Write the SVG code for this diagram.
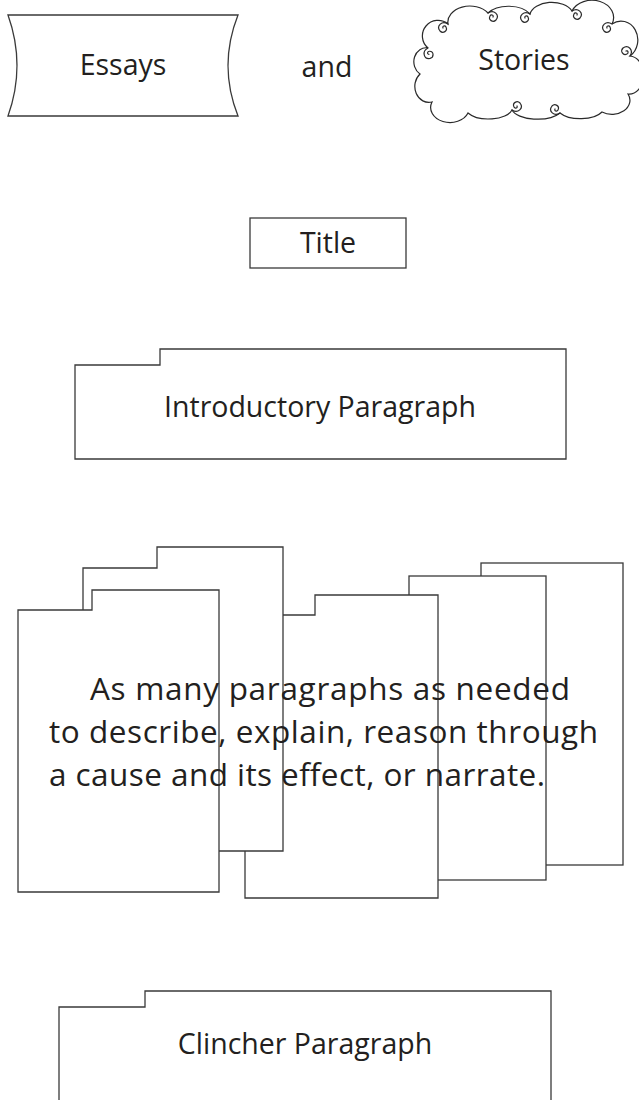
<svg xmlns="http://www.w3.org/2000/svg" width="639" height="1100" viewBox="0 0 639 1100">
<style>
.shape{fill:#fff;stroke:#3a3a3a;stroke-width:1.3;stroke-linejoin:miter}
.curl{fill:none;stroke:#2a2a2a;stroke-width:1.2;stroke-linecap:round}
.lbl{font-family:"Open Sans","Liberation Sans",sans-serif;fill:#231f20;font-size:28.5px}
.big{font-family:"Open Sans","Liberation Sans",sans-serif;fill:#231f20;font-size:31.5px}
</style>
<defs>
<path id="curl" class="curl" d="M0,0 c-6,-4 -12,2 -8,7 c3,3 8,0 6,-4 c-1,-2 -4,-1 -3,1"/>
</defs>
<rect width="639" height="1100" fill="#fff"/>

<g id="node-essays">
<path class="shape" d="M8,15 L238,15 Q218,65.5 238,116 L8,116 Q26,65.5 8,15 Z"/>
<text class="lbl" x="123" y="75" text-anchor="middle">Essays</text>
</g>

<g id="node-and">
<text class="lbl" x="327" y="77" text-anchor="middle">and</text>
</g>

<g id="node-stories">
<path class="shape" style="stroke:#2a2a2a;stroke-width:1.2" d="M428,48 A14,14 0 0 1 448,24 A22,16 0 0 1 488,13 A24,14 0 0 1 530,14 A22,14 0 0 1 572,11 A20,16 0 0 1 612,24 A16,18 0 0 1 630,56 A14,18 0 0 1 628,94 A18,14 0 0 1 602,112 A24,12 0 0 1 560,113 A26,12 0 0 1 512,110 A24,12 0 0 1 468,113 A18,14 0 0 1 432,102 A14,16 0 0 1 420,74 A12,14 0 0 1 428,48 Z"/>
<use href="#curl" transform="translate(448,24)"/>
<use href="#curl" transform="translate(488,13) scale(-1,1)"/>
<use href="#curl" transform="translate(530,14)"/>
<use href="#curl" transform="translate(572,11) scale(-1,1)"/>
<use href="#curl" transform="translate(612,24)"/>
<use href="#curl" transform="translate(428,48) rotate(-60)"/>
<use href="#curl" transform="translate(630,56) rotate(90)"/>
<use href="#curl" transform="translate(512,110) rotate(180)"/>
<use href="#curl" transform="translate(560,113) scale(1,-1)"/>
<text class="lbl" x="524" y="70" text-anchor="middle">Stories</text>
</g>

<g id="node-title">
<rect class="shape" x="250" y="218" width="156" height="50"/>
<text class="lbl" x="328" y="253" text-anchor="middle">Title</text>
</g>

<g id="node-intro">
<path class="shape" d="M75,365 H160 V349 H566 V459 H75 Z"/>
<text class="lbl" x="320" y="417" text-anchor="middle">Introductory Paragraph</text>
</g>

<g id="node-body">
<rect class="shape" x="481" y="563" width="142" height="302"/>
<rect class="shape" x="409" y="576" width="137" height="304"/>
<path class="shape" d="M245,615 H315 V595 H438 V898 H245 Z"/>
<path class="shape" d="M83,568 H157 V547 H283 V851 H83 Z"/>
<path class="shape" d="M18,610 H92 V590 H219 V892 H18 Z"/>
<text class="big" x="90" y="700" textLength="480" lengthAdjust="spacing">As many paragraphs as needed</text>
<text class="big" x="49" y="743" textLength="549" lengthAdjust="spacing">to describe, explain, reason through</text>
<text class="big" x="49" y="786" textLength="496" lengthAdjust="spacing">a cause and its effect, or narrate.</text>
</g>

<g id="node-clincher">
<path class="shape" d="M59,1102 V1007 H145 V991 H551 V1102"/>
<text class="lbl" x="305" y="1054" text-anchor="middle">Clincher Paragraph</text>
</g>
</svg>
